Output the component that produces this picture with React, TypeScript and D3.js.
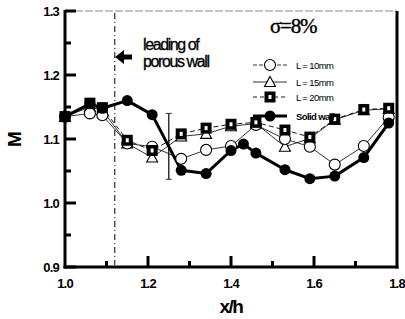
import React from "react";
import * as d3 from "d3";

const xGrid = [1.0, 1.06, 1.09, 1.15, 1.21, 1.28, 1.34, 1.40, 1.46, 1.53, 1.59, 1.65, 1.72, 1.78];
const L10 = [1.135, 1.14, 1.137, 1.093, 1.088, 1.069, 1.083, 1.089, 1.122, 1.1, 1.088, 1.06, 1.089, 1.134];
const L15 = [1.135, 1.15, 1.145, 1.093, 1.071, 1.104, 1.108, 1.12, 1.124, 1.088, 1.101, 1.13, 1.145, 1.147];
const L20 = [1.135, 1.156, 1.149, 1.098, 1.082, 1.108, 1.117, 1.123, 1.126, 1.114, 1.103, 1.131, 1.146, 1.148];
const solidX = [1.0, 1.06, 1.09, 1.15, 1.21, 1.28, 1.34, 1.40, 1.43, 1.46, 1.53, 1.59, 1.65, 1.72, 1.78];
const solidY = [1.135, 1.155, 1.148, 1.16, 1.138, 1.051, 1.046, 1.082, 1.092, 1.078, 1.052, 1.038, 1.042, 1.071, 1.125];
const errX = 1.25;
const errLo = 1.037;
const errHi = 1.14;
const leadingX = 1.12;
const xTicks = [1.0, 1.2, 1.4, 1.6, 1.8];
const xMinor = [1.1, 1.3, 1.5, 1.7];
const yTicks = [0.9, 1.0, 1.1, 1.2, 1.3];
const yMinor = [0.95, 1.05, 1.15, 1.25];
const legendLabels = ["L = 10mm", "L = 15mm", "L = 20mm", "Solid wall"];

const W = 405, H = 319;
const left = 65, right = 397, top = 11, bottom = 267;

export default function App() {
  const x = d3.scaleLinear().domain([1.0, 1.8]).range([left, right]);
  const y = d3.scaleLinear().domain([0.9, 1.3]).range([bottom, top]);
  const line = d3.line<[number, number]>().x(d => x(d[0])).y(d => y(d[1]));
  const pts = (xs: number[], ys: number[]) => xs.map((v, i) => [v, ys[i]] as [number, number]);
  const p10 = pts(xGrid, L10), p15 = pts(xGrid, L15), p20 = pts(xGrid, L20), pS = pts(solidX, solidY);

  const circle = (cx: number, cy: number, k: string) => (
    <circle key={k} cx={cx} cy={cy} r={5.5} fill="white" stroke="black" strokeWidth={1.1} />
  );
  const tri = (cx: number, cy: number, k: string) => (
    <path key={k} d={`M${cx},${cy - 5.5}L${cx + 5.5},${cy + 4.5}L${cx - 5.5},${cy + 4.5}Z`} fill="white" stroke="black" strokeWidth={1.1} />
  );
  const sq = (cx: number, cy: number, k: string) => (
    <g key={k}>
      <rect x={cx - 5.5} y={cy - 5.5} width={11} height={11} fill="black" />
      <rect x={cx - 1.5} y={cy - 2} width={3} height={4} fill="white" />
    </g>
  );
  const dot = (cx: number, cy: number, k: string) => (
    <circle key={k} cx={cx} cy={cy} r={5.5} fill="black" />
  );

  const legY = [65, 82, 97, 116];
  const legX0 = 253, legX1 = 287, legMid = 270;

  return (
    <svg width={W} height={H} style={{ position: "absolute", left: 0, top: 0, background: "white" }}
      fontFamily="'Liberation Sans', Arial, sans-serif">
      {/* frame */}
      <line x1={left} y1={top} x2={right} y2={top} stroke="#888" strokeWidth={1} strokeDasharray="8,2" />
      <line x1={left} y1={top - 1} x2={left} y2={bottom + 1.5} stroke="black" strokeWidth={3} />
      <line x1={left - 1.5} y1={bottom} x2={right + 1.5} y2={bottom} stroke="black" strokeWidth={3} />
      <line x1={right} y1={top} x2={right} y2={bottom + 1.5} stroke="black" strokeWidth={3} />

      {/* ticks */}
      {yTicks.map(t => <line key={"yt" + t} x1={left} x2={left + 11} y1={y(t)} y2={y(t)} stroke="black" strokeWidth={3} />)}
      {yMinor.map(t => <line key={"ym" + t} x1={left} x2={left + 6} y1={y(t)} y2={y(t)} stroke="black" strokeWidth={3} />)}
      {xTicks.slice(1, -1).map(t => <line key={"xt" + t} x1={x(t)} x2={x(t)} y1={bottom} y2={bottom - 11} stroke="black" strokeWidth={3} />)}
      {xMinor.map(t => <line key={"xm" + t} x1={x(t)} x2={x(t)} y1={bottom} y2={bottom - 6} stroke="black" strokeWidth={3} />)}

      {yTicks.map(t => (
        <text key={"yl" + t} x={left - 6} y={y(t) + 4.5} textAnchor="end" fontSize={13} fontWeight="bold" letterSpacing={-0.8}>
          {t.toFixed(1)}
        </text>
      ))}
      {xTicks.map(t => (
        <text key={"xl" + t} x={x(t)} y={288} textAnchor="middle" fontSize={13} fontWeight="bold" letterSpacing={-0.8}>
          {t.toFixed(1)}
        </text>
      ))}
      <text x={x(1.4)} y={313} textAnchor="middle" fontSize={19} fontWeight="bold" letterSpacing={-1.5}>x/h</text>
      <text transform={`translate(21,139) rotate(-90)`} textAnchor="middle" fontSize={19} fontWeight="bold">M</text>

      {/* leading line */}
      <line x1={x(leadingX)} x2={x(leadingX)} y1={top + 2} y2={bottom - 2} stroke="black" strokeWidth={1} strokeDasharray="6,3,1,3" />

      {/* annotation */}
      <path d="M115,57 L124,50 L124,54.5 L132,54.5 L132,59.5 L124,59.5 L124,64 Z" fill="black" />
      <text x={143} y={50} fontSize={16} letterSpacing={-1.4} stroke="black" strokeWidth={0.3}>leading of</text>
      <text x={143} y={67} fontSize={16} letterSpacing={-1.4} stroke="black" strokeWidth={0.3}>porous wall</text>
      <text x={270} y={33} fontSize={21} fontFamily="'Liberation Serif', serif" letterSpacing={-1.2} stroke="black" strokeWidth={0.4}>σ=8%</text>

      {/* error bar */}
      <line x1={x(errX)} x2={x(errX)} y1={y(errHi)} y2={y(errLo)} stroke="#333" strokeWidth={1.5} />
      <line x1={x(errX) - 3} x2={x(errX) + 3} y1={y(errHi)} y2={y(errHi)} stroke="#333" strokeWidth={1} />
      <line x1={x(errX) - 3} x2={x(errX) + 3} y1={y(errLo)} y2={y(errLo)} stroke="#333" strokeWidth={1} />

      {/* series lines */}
      <path d={line(p20) || ""} fill="none" stroke="black" strokeWidth={0.9} strokeDasharray="5,3" />
      <path d={line(p15) || ""} fill="none" stroke="black" strokeWidth={0.8} />
      <path d={line(p10) || ""} fill="none" stroke="black" strokeWidth={0.8} />
      <path d={line(pS) || ""} fill="none" stroke="black" strokeWidth={3} strokeLinejoin="round" />

      {/* markers */}
      {p15.map((d, i) => tri(x(d[0]), y(d[1]), "t" + i))}
      {p10.map((d, i) => circle(x(d[0]), y(d[1]), "c" + i))}
      {p20.map((d, i) => sq(x(d[0]), y(d[1]), "s" + i))}
      {pS.map((d, i) => dot(x(d[0]), y(d[1]), "d" + i))}

      {/* legend */}
      <line x1={legX0} x2={legX1} y1={legY[0]} y2={legY[0]} stroke="black" strokeWidth={0.8} strokeDasharray="4,2" />
      {circle(legMid, legY[0], "lc")}
      <line x1={legX0} x2={legX1} y1={legY[1]} y2={legY[1]} stroke="black" strokeWidth={0.8} />
      {tri(legMid, legY[1], "lt")}
      <line x1={legX0} x2={legX1} y1={legY[2]} y2={legY[2]} stroke="black" strokeWidth={0.9} strokeDasharray="4,3" />
      {sq(legMid, legY[2], "ls")}
      <line x1={legX0} x2={legX1} y1={legY[3]} y2={legY[3]} stroke="black" strokeWidth={3} />
      {dot(legMid, legY[3], "ld")}
      {legendLabels.map((l, i) => (
        <text key={l} x={296} y={legY[i] + 3.5} fontSize={9.5} letterSpacing={-0.6} fontWeight={i === 3 ? "bold" : "normal"}>{l}</text>
      ))}
    </svg>
  );
}
